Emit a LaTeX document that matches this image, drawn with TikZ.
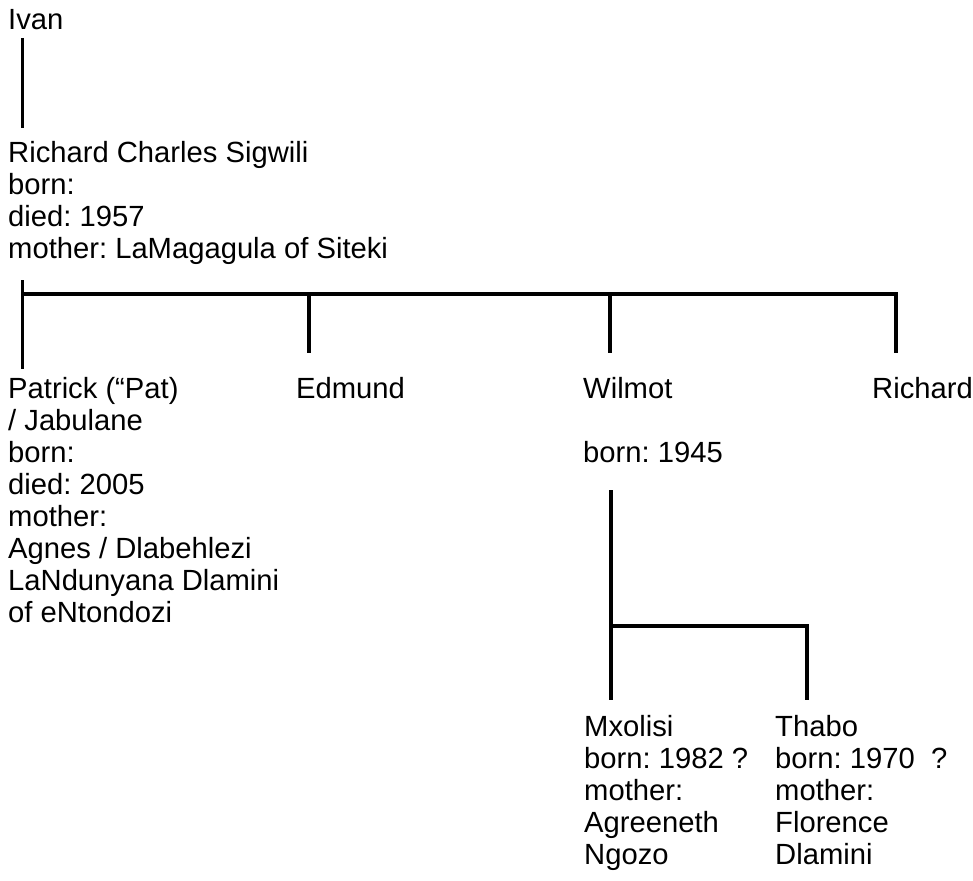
\documentclass[tikz,border=0pt]{standalone}
\usepackage{fontspec}
\setmainfont{Liberation Sans}
\begin{document}
\frenchspacing
\begin{tikzpicture}[x=1pt,y=-1pt,
  txt/.style={anchor=north west, inner sep=0pt, align=left,
    font=\fontsize{29.2}{32}\selectfont\frenchspacing},
  link/.style={line width=3.5pt, line join=miter}]
\useasboundingbox (0,0) rectangle (973,880);
% persons
\node[txt] (ivan) at (8,6.6) {\strut Ivan};
\node[txt] (rcs) at (8,139.6) {\strut Richard Charles Sigwili\\born:\\died: 1957\\mother: LaMagagula of Siteki};
\node[txt] (patrick) at (8,375.6) {\strut Patrick (“Pat)\\/ Jabulane\\born:\\died: 2005\\mother:\\Agnes / Dlabehlezi\\LaNdunyana Dlamini\\of eNtondozi};
\node[txt] (edmund) at (296,375.6) {\strut Edmund};
\node[txt] (wilmot) at (583,375.6) {\strut Wilmot\\\mbox{}\\born: 1945};
\node[txt] (richard) at (872,375.6) {\strut Richard};
\node[txt] (mxolisi) at (584,713.6) {\strut Mxolisi\\born: 1982 ?\\mother:\\Agreeneth\\Ngozo};
\node[txt] (thabo) at (775,713.6) {\strut Thabo\\born: 1970 \ ?\\mother:\\Florence\\Dlamini};
% connector points
\coordinate (ivanS) at (22.5,38);
\coordinate (rcsN) at (22.5,128);
\coordinate (rcsS) at (22.5,280);
\coordinate (patN) at (22.5,369);
\coordinate (barL) at (22.5,294);
\coordinate (edBar) at (309,294);
\coordinate (edN) at (309,353);
\coordinate (wiBar) at (610,294);
\coordinate (wiN) at (610,353);
\coordinate (riBar) at (896,294);
\coordinate (riN) at (896,353);
\coordinate (wiS) at (611,490);
\coordinate (wiJ) at (611,626);
\coordinate (mxN) at (611,700);
\coordinate (thJ) at (807,626);
\coordinate (thN) at (807,700);
% connectors
\draw[link] (ivanS) -- (rcsN);
\draw[link] (rcsS) -- (patN);
\draw[link] (barL) -- (riBar) -- (riN);
\draw[link] (edBar) -- (edN);
\draw[link] (wiBar) -- (wiN);
\draw[link] (wiS) -- (mxN);
\draw[link] (wiJ) -- (thJ) -- (thN);
\end{tikzpicture}
\end{document}
